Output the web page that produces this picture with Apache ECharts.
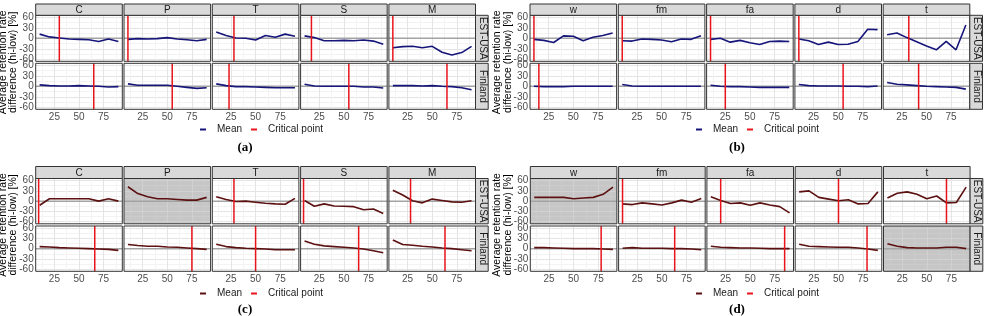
<!DOCTYPE html>
<html>
<head>
<meta charset="utf-8">
<script src="https://cdn.jsdelivr.net/npm/echarts@6/dist/echarts.min.js"></script>
<style>
html, body { margin: 0; padding: 0; background: #fff; }
#main { width: 984px; height: 316px; }
</style>
</head>
<body>
<div id="main"></div>
<script>
// x positions of the means (same for every facet)
var xValues = [10, 20, 30, 40, 50, 60, 70, 80, 90];
var xTicks = [25, 50, 75];
var yTicks = [-60, -30, 0, 30, 60];
var xGridValues = [12.5, 25, 37.5, 50, 62.5, 75, 87.5];
var yGridValues = [-60, -45, -30, -15, 0, 15, 30, 45, 60];
var rowNames = ['EST-USA', 'Finland'];
var facetsAC = ['C', 'P', 'T', 'S', 'M'];
var facetsBD = ['w', 'fm', 'fa', 'd', 't'];

// (a)
var meanA_EST = [
  [12, 4, 1, -2, -3, -4, -9, -2, -9],
  [-3, -1, -2, -1, 2, -2, -4, -7, -3],
  [18, 8, 1, 0, -5, 8, 3, 12, 6],
  [7, 2, -7, -7, -6, -7, -5, -8, -17],
  [-27, -24, -23, -27, -23, -40, -48, -41, -23]
];
var meanA_FIN = [
  [4, 2, 1, 1, 2, 1, 0, -2, -1],
  [7, 3, 3, 3, 3, 0, -3, -6, -4],
  [7, 2, -1, -1, -2, -3, -4, -4, -4],
  [6, 1, 0, 0, 0, 0, -2, -2, -5],
  [2, 2, 2, 1, 2, 0, -1, -4, -10]
];
var critA_EST = [30, 10, 28, 17, 10];
var critA_FIN = [65, 55, 23, 55, 65];
var shadeA_EST = [0, 0, 0, 0, 0];
var shadeA_FIN = [0, 0, 0, 0, 0];

// (b)
var meanB_EST = [
  [-3, -6, -12, 7, 6, -7, 3, 8, 15],
  [-7, -8, -2, -3, -5, -10, -2, -3, 7],
  [-3, 0, -11, -6, -13, -18, -9, -8, -9],
  [-2, -7, -18, -11, -18, -17, -9, 26, 25],
  [10, 15, 2, -10, -22, -33, -9, -33, 38]
];
var meanB_FIN = [
  [0, -1, -1, -1, 0, 0, 0, 0, 0],
  [5, 1, 0, 0, 0, 0, 0, 0, 0],
  [3, 0, -1, -1, -2, -3, -3, -3, -3],
  [5, 2, 1, 1, 1, 0, 0, -1, 1],
  [11, 6, 4, 2, 0, -1, -2, -3, -8]
];
var critB_EST = [10, 10, 10, 10, 32];
var critB_FIN = [15, null, 25, 55, 42];
var shadeB_EST = [0, 0, 0, 0, 0];
var shadeB_FIN = [0, 0, 0, 0, 0];

// (c)
var meanC_EST = [
  [-12, 7, 7, 7, 7, 7, 0, 7, 0],
  [42, 22, 13, 7, 7, 5, 3, 3, 11],
  [13, 5, -1, 0, -3, -6, -8, -9, 8],
  [2, -15, -8, -14, -15, -16, -25, -23, -36],
  [32, 18, 1, -5, 6, 2, -2, -3, 1]
];
var meanC_FIN = [
  [6, 5, 3, 2, 1, 0, -1, -2, -5],
  [12, 9, 7, 7, 5, 4, 2, 0, -2],
  [13, 6, 3, 1, 0, -1, -3, -3, -3],
  [22, 13, 8, 6, 4, 2, -1, -6, -12],
  [25, 12, 10, 7, 5, 2, 0, -3, -6]
];
var critC_EST = [9, null, 28, 9, 28];
var critC_FIN = [66, 75, 50, 65, 63];
var shadeC_EST = [0, 1, 0, 0, 0];
var shadeC_FIN = [0, 0, 0, 0, 0];

// (d)
var meanD_EST = [
  [11, 11, 11, 11, 7, 9, 11, 20, 41],
  [-8, -10, -5, -8, -11, -5, 3, -3, 8],
  [13, 2, -7, -5, -12, -5, -11, -16, -34],
  [27, 30, 11, 6, 1, 4, -8, -7, 27],
  [9, 23, 27, 20, 7, 15, -5, -4, 41]
];
var meanD_FIN = [
  [3, 3, 2, 1, 0, 0, 0, -1, -2],
  [1, 3, 1, 1, 1, 0, 0, -1, -3],
  [7, 4, 3, 2, 2, 1, 0, 0, 0],
  [13, 7, 6, 5, 4, 4, 2, -1, -5],
  [14, 7, 3, 2, 2, 2, 4, 4, 0]
];
var critD_EST = [null, 10, 20, 50, 70];
var critD_FIN = [78, 63, 85, 79, null];
var shadeD_EST = [1, 0, 0, 0, 0];
var shadeD_FIN = [0, 0, 0, 0, 1];

var X_MIN = 6, X_MAX = 94, Y_MIN = -66, Y_MAX = 66;
var COL_PITCH = 88.3, COL_W = 86.6, STRIP_W = 12.7;
var FONT = 'Liberation Sans, Arial, sans-serif';
var NAVY = '#15157a', DARKRED = '#5c1010', CRIT = '#e8141b';

var panels = [
  { label: '(a)', facets: facetsAC, mean: [meanA_EST, meanA_FIN], crit: [critA_EST, critA_FIN], shade: [shadeA_EST, shadeA_FIN],
    color: NAVY, left: 35.7, stripTop: 4, stripH: 11.3, rowTop: [15.3, 63.3], rowH: 46, legendLeft: 200, legendTop: 124.5, labelX: 245, labelY: 148 },
  { label: '(b)', facets: facetsBD, mean: [meanB_EST, meanB_FIN], crit: [critB_EST, critB_FIN], shade: [shadeB_EST, shadeB_FIN],
    color: NAVY, left: 530, stripTop: 4, stripH: 11.3, rowTop: [15.3, 63.3], rowH: 46, legendLeft: 696, legendTop: 124.5, labelX: 737, labelY: 148 },
  { label: '(c)', facets: facetsAC, mean: [meanC_EST, meanC_FIN], crit: [critC_EST, critC_FIN], shade: [shadeC_EST, shadeC_FIN],
    color: DARKRED, left: 35.7, stripTop: 166.5, stripH: 12, rowTop: [178.5, 226], rowH: 45.3, legendLeft: 200, legendTop: 288.5, labelX: 245, labelY: 309.5 },
  { label: '(d)', facets: facetsBD, mean: [meanD_EST, meanD_FIN], crit: [critD_EST, critD_FIN], shade: [shadeD_EST, shadeD_FIN],
    color: DARKRED, left: 530.3, stripTop: 166.5, stripH: 12, rowTop: [178.5, 226], rowH: 45.3, legendLeft: 696, legendTop: 288.5, labelX: 737, labelY: 309.5 }
];

var myChart = echarts.init(document.getElementById('main'));

var option = {
  animation: false,
  backgroundColor: '#fff',
  grid: [], xAxis: [], yAxis: [], series: [], legend: [], graphic: []
};

//build one figure panel (a..d)
function BuildPanel (p) {
  for (var r = 0; r < 2; r++) {
    var top = p.rowTop[r];
    for (var c = 0; c < 5; c++) {
      var gi = option.grid.length;
      var left = p.left + c * COL_PITCH;
      var shaded = p.shade[r][c] === 1;
      // minor / major grid line colours (fainter on the shaded facets)
      var minorCol = shaded ? '#cbcbcb' : '#f3f3f3';
      var majorCol = shaded ? '#d1d1d1' : '#e4e4e4';
      option.grid.push({
        left: left, top: top, width: COL_W, height: p.rowH,
        show: true, backgroundColor: shaded ? '#c6c6c6' : '#fff',
        borderWidth: 0, outerBoundsMode: 'none'
      });
      option.xAxis.push({
        gridIndex: gi, type: 'value', min: X_MIN, max: X_MAX,
        axisLine: { show: false },
        axisTick: { show: false, customValues: xGridValues },
        axisLabel: { show: r === 1, customValues: xTicks, color: '#4d4d4d', fontSize: 10, fontFamily: FONT, margin: 3 },
        splitLine: { show: true, lineStyle: { color: [minorCol, majorCol], width: 1 } }
      });
      option.yAxis.push({
        gridIndex: gi, type: 'value', min: Y_MIN, max: Y_MAX,
        axisLine: { show: false },
        axisTick: { show: false, customValues: yGridValues },
        axisLabel: { show: c === 0, customValues: yTicks, color: '#4d4d4d', fontSize: 10, fontFamily: FONT, margin: 2 },
        splitLine: { show: true, lineStyle: { color: [majorCol, minorCol], width: 1 } }
      });
      // horizontal reference at 0
      option.series.push({
        type: 'line', xAxisIndex: gi, yAxisIndex: gi, silent: true, symbol: 'none', z: 2,
        data: [[X_MIN, 0], [X_MAX, 0]],
        lineStyle: { color: '#a3a3a3', width: 1.5 }
      });
      var vals = p.mean[r][c];
      var pts = [];
      for (var i = 0; i < xValues.length; i++) pts.push([xValues[i], vals[i]]);
      option.series.push({
        name: 'Mean', type: 'line', xAxisIndex: gi, yAxisIndex: gi, silent: true, symbol: 'none', z: 3,
        data: pts, color: p.color,
        lineStyle: { color: p.color, width: 1.6 }
      });
      var cp = p.crit[r][c];
      if (cp !== null) {
        option.series.push({
          name: 'Critical point', type: 'line', xAxisIndex: gi, yAxisIndex: gi, silent: true, symbol: 'none', z: 4,
          data: [[cp, Y_MIN], [cp, Y_MAX]], color: CRIT,
          lineStyle: { color: CRIT, width: 1.5 }
        });
      }
      // panel border drawn on top of the grid lines
      option.graphic.push({
        type: 'rect', shape: { x: left, y: top, width: COL_W, height: p.rowH },
        style: { fill: 'none', stroke: '#333', lineWidth: 1 }, z: 10, silent: true
      });
    }
    // row strip on the right
    var sx = p.left + 4 * COL_PITCH + COL_W;
    option.graphic.push({
      type: 'rect', shape: { x: sx, y: top, width: STRIP_W, height: p.rowH },
      style: { fill: '#d9d9d9', stroke: '#333', lineWidth: 1 }, z: 10
    });
    option.graphic.push({
      type: 'text', x: sx + STRIP_W / 2 + 0.5, y: top + p.rowH / 2, rotation: -Math.PI / 2, z: 11,
      style: { text: rowNames[r], fill: '#1a1a1a', fontSize: 10, fontFamily: FONT, textAlign: 'center', textVerticalAlign: 'middle' }
    });
  }
  // column strips on top
  for (var k = 0; k < 5; k++) {
    var lx = p.left + k * COL_PITCH;
    option.graphic.push({
      type: 'rect', shape: { x: lx, y: p.stripTop, width: COL_W, height: p.stripH },
      style: { fill: '#d9d9d9', stroke: '#333', lineWidth: 1 }, z: 10
    });
    option.graphic.push({
      type: 'text', x: lx + COL_W / 2, y: p.stripTop + p.stripH / 2 + 0.5, z: 11,
      style: { text: p.facets[k], fill: '#1a1a1a', fontSize: 10, fontFamily: FONT, textAlign: 'center', textVerticalAlign: 'middle' }
    });
  }
  // y axis title
  var midY = (p.rowTop[0] + p.rowTop[1] + p.rowH) / 2;
  option.graphic.push({
    type: 'text', x: p.left - 27.5, y: midY, rotation: Math.PI / 2, z: 11,
    style: { text: 'Average retention rate\ndifference (hi-low) [%]', fill: '#000', fontSize: 10.5, lineHeight: 10.5, fontFamily: FONT, textAlign: 'center', textVerticalAlign: 'middle' }
  });
  // panel label
  option.graphic.push({
    type: 'text', x: p.labelX, y: p.labelY, z: 11,
    style: { text: p.label, fill: '#000', fontSize: 13, fontWeight: 'bold', fontFamily: 'Liberation Serif, Times New Roman, serif', textAlign: 'center', textVerticalAlign: 'middle' }
  });
  // legend
  option.legend.push({
    left: p.legendLeft, top: p.legendTop, padding: 0, orient: 'horizontal',
    selectedMode: false, icon: 'rect', itemWidth: 6, itemHeight: 2, itemGap: 9,
    textStyle: { fontSize: 10, fontFamily: FONT, color: '#1a1a1a', padding: [0, 0, 0, 6] },
    data: [
      { name: 'Mean', itemStyle: { color: p.color } },
      { name: 'Critical point', itemStyle: { color: CRIT } }
    ]
  });
}

for (var n = 0; n < panels.length; n++) BuildPanel(panels[n]);

myChart.setOption(option);
</script>
</body>
</html>
